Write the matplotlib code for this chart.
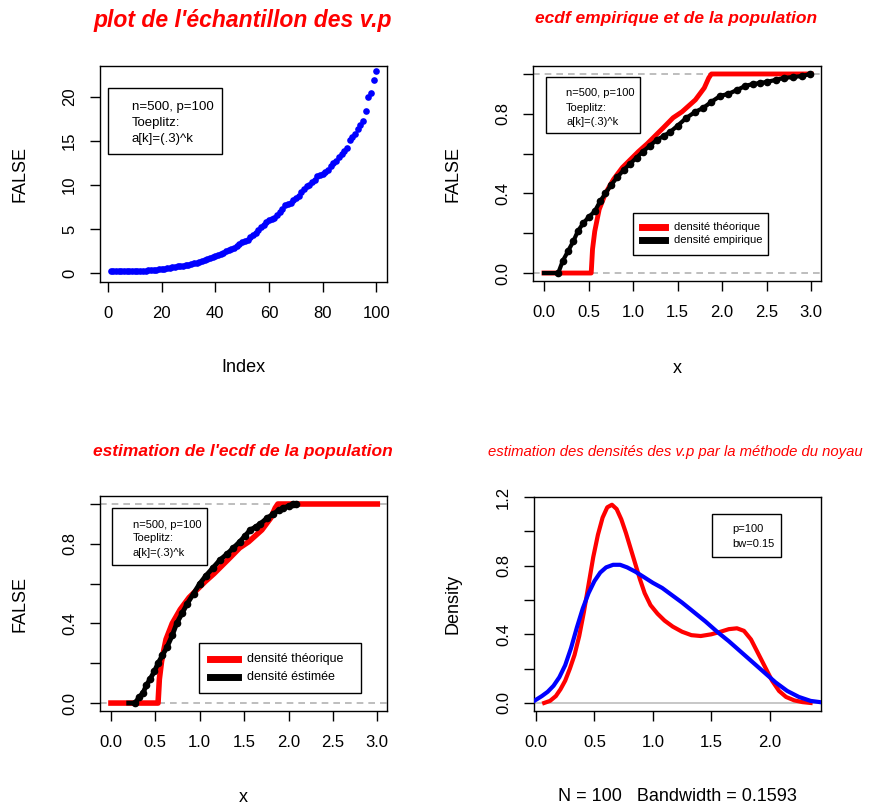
import numpy as np
import matplotlib.pyplot as plt
from matplotlib.patches import Rectangle

plt.rcParams['font.family'] = ['Liberation Sans', 'DejaVu Sans']

# valeurs propres ordonnees (echantillon)
vp = [0.20, 0.20, 0.21, 0.21, 0.22, 0.22, 0.23, 0.23, 0.24, 0.24,
      0.25, 0.26, 0.27, 0.28, 0.30, 0.33, 0.36, 0.39, 0.42, 0.45,
      0.50, 0.55, 0.60, 0.66, 0.72, 0.76, 0.80, 0.84, 0.90, 0.95,
      1.02, 1.10, 1.18, 1.28, 1.38, 1.48, 1.58, 1.68, 1.78, 1.89,
      2.05, 2.20, 2.32, 2.48, 2.62, 2.72, 2.85, 3.10, 3.30, 3.48,
      3.62, 3.80, 4.05, 4.30, 4.55, 4.90, 5.25, 5.45, 5.75, 6.05,
      6.15, 6.25, 6.55, 6.95, 7.30, 7.70, 7.85, 8.00, 8.30, 8.50,
      8.80, 9.20, 9.55, 9.85, 10.05, 10.30, 10.60, 11.05, 11.10, 11.25,
      11.50, 11.75, 12.10, 12.45, 12.75, 13.15, 13.55, 13.90, 14.20, 15.10,
      15.45, 15.80, 16.30, 16.85, 17.30, 18.40, 20.00, 20.40, 21.90, 22.90]
index = np.arange(1, len(vp) + 1)

# ecdf theorique (population)
x_theo = [0.0, 0.53, 0.545, 0.57, 0.62, 0.69, 0.78, 0.88, 0.97, 1.06, 1.16,
          1.25, 1.34, 1.45, 1.55, 1.70, 1.80, 1.85, 1.88, 3.0]
F_theo = [0.0, 0.0, 0.12, 0.21, 0.32, 0.40, 0.47, 0.53, 0.57, 0.61, 0.65,
          0.69, 0.73, 0.78, 0.81, 0.87, 0.93, 0.98, 1.0, 1.0]

# ecdf empirique
x_emp = [0.0, 0.16, 0.21, 0.27, 0.33, 0.38, 0.44, 0.50, 0.57, 0.63, 0.69,
         0.75, 0.82, 0.90, 0.97, 1.04, 1.11, 1.19, 1.27, 1.35, 1.42, 1.50,
         1.60, 1.70, 1.79, 1.88, 1.98, 2.07, 2.17, 2.26, 2.35, 2.43, 2.50,
         2.60, 2.69, 2.80, 2.90, 2.99]
F_emp = [0.0, 0.0, 0.06, 0.11, 0.16, 0.21, 0.25, 0.28, 0.31, 0.36, 0.40,
         0.44, 0.48, 0.52, 0.55, 0.58, 0.61, 0.64, 0.67, 0.69, 0.71, 0.74,
         0.78, 0.81, 0.83, 0.86, 0.89, 0.90, 0.92, 0.94, 0.95, 0.955, 0.96,
         0.97, 0.98, 0.985, 0.99, 1.0]

# ecdf estimee
x_est = [0.20, 0.27, 0.32, 0.36, 0.40, 0.44, 0.49, 0.53, 0.58, 0.63, 0.69,
         0.74, 0.80, 0.86, 0.93, 1.0, 1.07, 1.15, 1.23, 1.31, 1.38, 1.45,
         1.51, 1.57, 1.63, 1.68, 1.76, 1.83, 1.89, 1.94, 2.0, 2.05, 2.08]
F_est = [0.0, 0.0, 0.03, 0.05, 0.09, 0.12, 0.16, 0.20, 0.24, 0.28, 0.34,
         0.40, 0.45, 0.50, 0.55, 0.60, 0.64, 0.68, 0.72, 0.75, 0.78, 0.81,
         0.84, 0.87, 0.885, 0.90, 0.93, 0.95, 0.97, 0.98, 0.99, 1.0, 1.0]

# densites par noyau
x_dtheo = [0.07, 0.12, 0.17, 0.21, 0.25, 0.29, 0.33, 0.37, 0.41, 0.45, 0.49,
           0.53, 0.57, 0.61, 0.65, 0.69, 0.73, 0.77, 0.81, 0.85, 0.89, 0.93,
           0.98, 1.04, 1.10, 1.17, 1.25, 1.33, 1.41, 1.50, 1.58, 1.65, 1.72,
           1.78, 1.84, 1.90, 1.96, 2.02, 2.08, 2.14, 2.21, 2.28, 2.35]
d_theo = [0.0, 0.012, 0.04, 0.08, 0.13, 0.20, 0.28, 0.39, 0.53, 0.69, 0.85,
          0.98, 1.08, 1.14, 1.155, 1.13, 1.07, 0.99, 0.90, 0.81, 0.72, 0.64,
          0.57, 0.52, 0.48, 0.445, 0.415, 0.395, 0.39, 0.40, 0.415, 0.43, 0.435,
          0.42, 0.37, 0.29, 0.21, 0.13, 0.07, 0.035, 0.015, 0.005, 0.0]
x_dest = [-0.02, 0.05, 0.10, 0.15, 0.20, 0.25, 0.30, 0.35, 0.40, 0.45, 0.50,
          0.55, 0.60, 0.66, 0.72, 0.78, 0.85, 0.92, 1.0, 1.08, 1.16, 1.25,
          1.35, 1.45, 1.55, 1.65, 1.75, 1.85, 1.95, 2.05, 2.15, 2.25, 2.35, 2.44]
d_est = [0.01, 0.04, 0.065, 0.10, 0.15, 0.22, 0.32, 0.44, 0.55, 0.64, 0.71,
         0.76, 0.79, 0.805, 0.805, 0.79, 0.765, 0.735, 0.70, 0.67, 0.63, 0.585,
         0.53, 0.475, 0.415, 0.36, 0.30, 0.24, 0.18, 0.12, 0.07, 0.035, 0.012, 0.004]

info = ["n=500, p=100", "Toeplitz:", "a[k]=(.3)^k"]
red = '#ff0000'
blue = '#0000ff'
grey = '#b3b3b3'


def style(ax):
    for s in ax.spines.values():
        s.set_linewidth(1.0)
    ax.tick_params(direction='out', length=7.5, width=1, labelsize=12)
    ax.tick_params(axis='x', pad=10)
    ax.tick_params(axis='y', pad=9, labelrotation=90)
    for t in ax.get_yticklabels():
        t.set_va('center')


def boxed(ax, x0, x1, y0, y1):
    ax.add_patch(Rectangle((x0, y0), x1 - x0, y1 - y0, transform=ax.transAxes,
                           fill=False, lw=1, ec='black', zorder=6))


def labels(ax, xl, yl, ylab_x=-0.279, xlab_y=-0.40):
    ax.set_xlabel(xl, fontsize=13)
    ax.set_ylabel(yl, fontsize=13)
    ax.xaxis.set_label_coords(0.5, xlab_y)
    ax.xaxis.label.set_va('center')
    ax.yaxis.set_label_coords(ylab_x, 0.5)
    ax.yaxis.label.set_va('center')


fig = plt.figure(figsize=(8.7, 8.1), dpi=100)
ax1 = fig.add_axes([0.1149, 0.6519, 0.330, 0.2667])
ax2 = fig.add_axes([0.6126, 0.6531, 0.331, 0.2654])
ax3 = fig.add_axes([0.1149, 0.1222, 0.330, 0.2654])
ax4 = fig.add_axes([0.6138, 0.1222, 0.330, 0.2642])

# 1 : valeurs propres
ax1.plot(index, vp, 'o', color=blue, ms=4.8, mew=0)
ax1.set_xlim(-2.96, 103.96)
ax1.set_ylim(-1.0, 23.5)
ax1.set_xticks([0, 20, 40, 60, 80, 100])
ax1.set_yticks([0, 5, 10, 15, 20])
style(ax1)
labels(ax1, 'Index', 'FALSE', xlab_y=-0.394)
boxed(ax1, 0.028, 0.425, 0.593, 0.898)
for y, s in zip([0.810, 0.736, 0.662], info):
    ax1.text(0.111, y, s, transform=ax1.transAxes, fontsize=9.5, va='center')

ecdf_yt = [0, 0.2, 0.4, 0.6, 0.8, 1.0]
ecdf_yl = ['0.0', '', '0.4', '', '0.8', '']
ecdf_xt = [0, 0.5, 1.0, 1.5, 2.0, 2.5, 3.0]

# 2 : ecdf empirique et population
ax2.axhline(0, color=grey, ls=(0, (4, 3)), lw=1.2, zorder=1)
ax2.axhline(1, color=grey, ls=(0, (4, 3)), lw=1.2, zorder=1)
ax2.plot(x_theo, F_theo, color=red, lw=3.5, zorder=3)
ax2.plot(x_emp, F_emp, color='black', lw=3, zorder=4)
ax2.plot(x_emp[1:], F_emp[1:], 'o', color='black', ms=4.5, zorder=4)
ax2.set_xlim(-0.124, 3.11)
ax2.set_ylim(-0.04, 1.04)
ax2.set_xticks(ecdf_xt)
ax2.set_xticklabels(['%.1f' % v for v in ecdf_xt])
ax2.set_yticks(ecdf_yt)
ax2.set_yticklabels(ecdf_yl)
style(ax2)
labels(ax2, 'x', 'FALSE', ylab_x=-0.278, xlab_y=-0.405)
boxed(ax2, 0.045, 0.372, 0.688, 0.949)
for y, s in zip([0.874, 0.805, 0.740], info):
    ax2.text(0.115, y, s, transform=ax2.transAxes, fontsize=8, va='center')
boxed(ax2, 0.347, 0.816, 0.121, 0.316)
ax2.plot([0.378, 0.458], [0.251, 0.251], color=red, lw=5, transform=ax2.transAxes)
ax2.plot([0.378, 0.458], [0.191, 0.191], color='black', lw=5, transform=ax2.transAxes)
ax2.text(0.490, 0.251, 'densité théorique', transform=ax2.transAxes, fontsize=8, va='center')
ax2.text(0.490, 0.191, 'densité empirique', transform=ax2.transAxes, fontsize=8, va='center')

# 3 : estimation de l'ecdf
ax3.axhline(0, color=grey, ls=(0, (4, 3)), lw=1.2, zorder=1)
ax3.axhline(1, color=grey, ls=(0, (4, 3)), lw=1.2, zorder=1)
ax3.plot(x_theo, F_theo, color=red, lw=4, zorder=3)
ax3.plot(x_est, F_est, color='black', lw=3.5, zorder=4)
ax3.plot(x_est[1:], F_est[1:], 'o', color='black', ms=4.5, zorder=4)
ax3.set_xlim(-0.124, 3.11)
ax3.set_ylim(-0.04, 1.04)
ax3.set_xticks(ecdf_xt)
ax3.set_xticklabels(['%.1f' % v for v in ecdf_xt])
ax3.set_yticks(ecdf_yt)
ax3.set_yticklabels(ecdf_yl)
style(ax3)
labels(ax3, 'x', 'FALSE')
boxed(ax3, 0.042, 0.373, 0.679, 0.944)
for y, s in zip([0.865, 0.805, 0.735], info):
    ax3.text(0.115, y, s, transform=ax3.transAxes, fontsize=8, va='center')
boxed(ax3, 0.345, 0.909, 0.084, 0.316)
ax3.plot([0.383, 0.481], [0.242, 0.242], color=red, lw=5, transform=ax3.transAxes)
ax3.plot([0.383, 0.481], [0.158, 0.158], color='black', lw=5, transform=ax3.transAxes)
ax3.text(0.512, 0.242, 'densité théorique', transform=ax3.transAxes, fontsize=9, va='center')
ax3.text(0.512, 0.158, 'densité éstimée', transform=ax3.transAxes, fontsize=9, va='center')

# 4 : densites
ax4.axhline(0, color='#bebebe', lw=1.2, zorder=1)
ax4.plot(x_dtheo, d_theo, color=red, lw=3, zorder=3)
ax4.plot(x_dest, d_est, color=blue, lw=3, zorder=4)
ax4.set_xlim(-0.017, 2.44)
ax4.set_ylim(-0.047, 1.2)
ax4.set_xticks([0, 0.5, 1.0, 1.5, 2.0])
ax4.set_xticklabels(['0.0', '0.5', '1.0', '1.5', '2.0'])
ax4.set_yticks([0, 0.2, 0.4, 0.6, 0.8, 1.0, 1.2])
ax4.set_yticklabels(['0.0', '', '0.4', '', '0.8', '', '1.2'])
style(ax4)
labels(ax4, 'N = 100   Bandwidth = 0.1593', 'Density', ylab_x=-0.282)
boxed(ax4, 0.620, 0.861, 0.720, 0.921)
ax4.text(0.690, 0.850, 'p=100', transform=ax4.transAxes, fontsize=8, va='center')
ax4.text(0.690, 0.780, 'bw=0.15', transform=ax4.transAxes, fontsize=8, va='center')

fig.text(0.279, 0.975, "plot de l'échantillon des v.p", color=red, fontsize=16.5,
         fontweight='bold', style='italic', ha='center', va='center')
fig.text(0.777, 0.977, "ecdf empirique et de la population", color=red, fontsize=12.5,
         fontweight='bold', style='italic', ha='center', va='center')
fig.text(0.279, 0.442, "estimation de l'ecdf de la population", color=red, fontsize=12.5,
         fontweight='bold', style='italic', ha='center', va='center')
fig.text(0.776, 0.442, "estimation des densités des v.p par la méthode du noyau", color=red,
         fontsize=10.7, style='italic', ha='center', va='center')

fig.savefig('out.png', dpi=100)
